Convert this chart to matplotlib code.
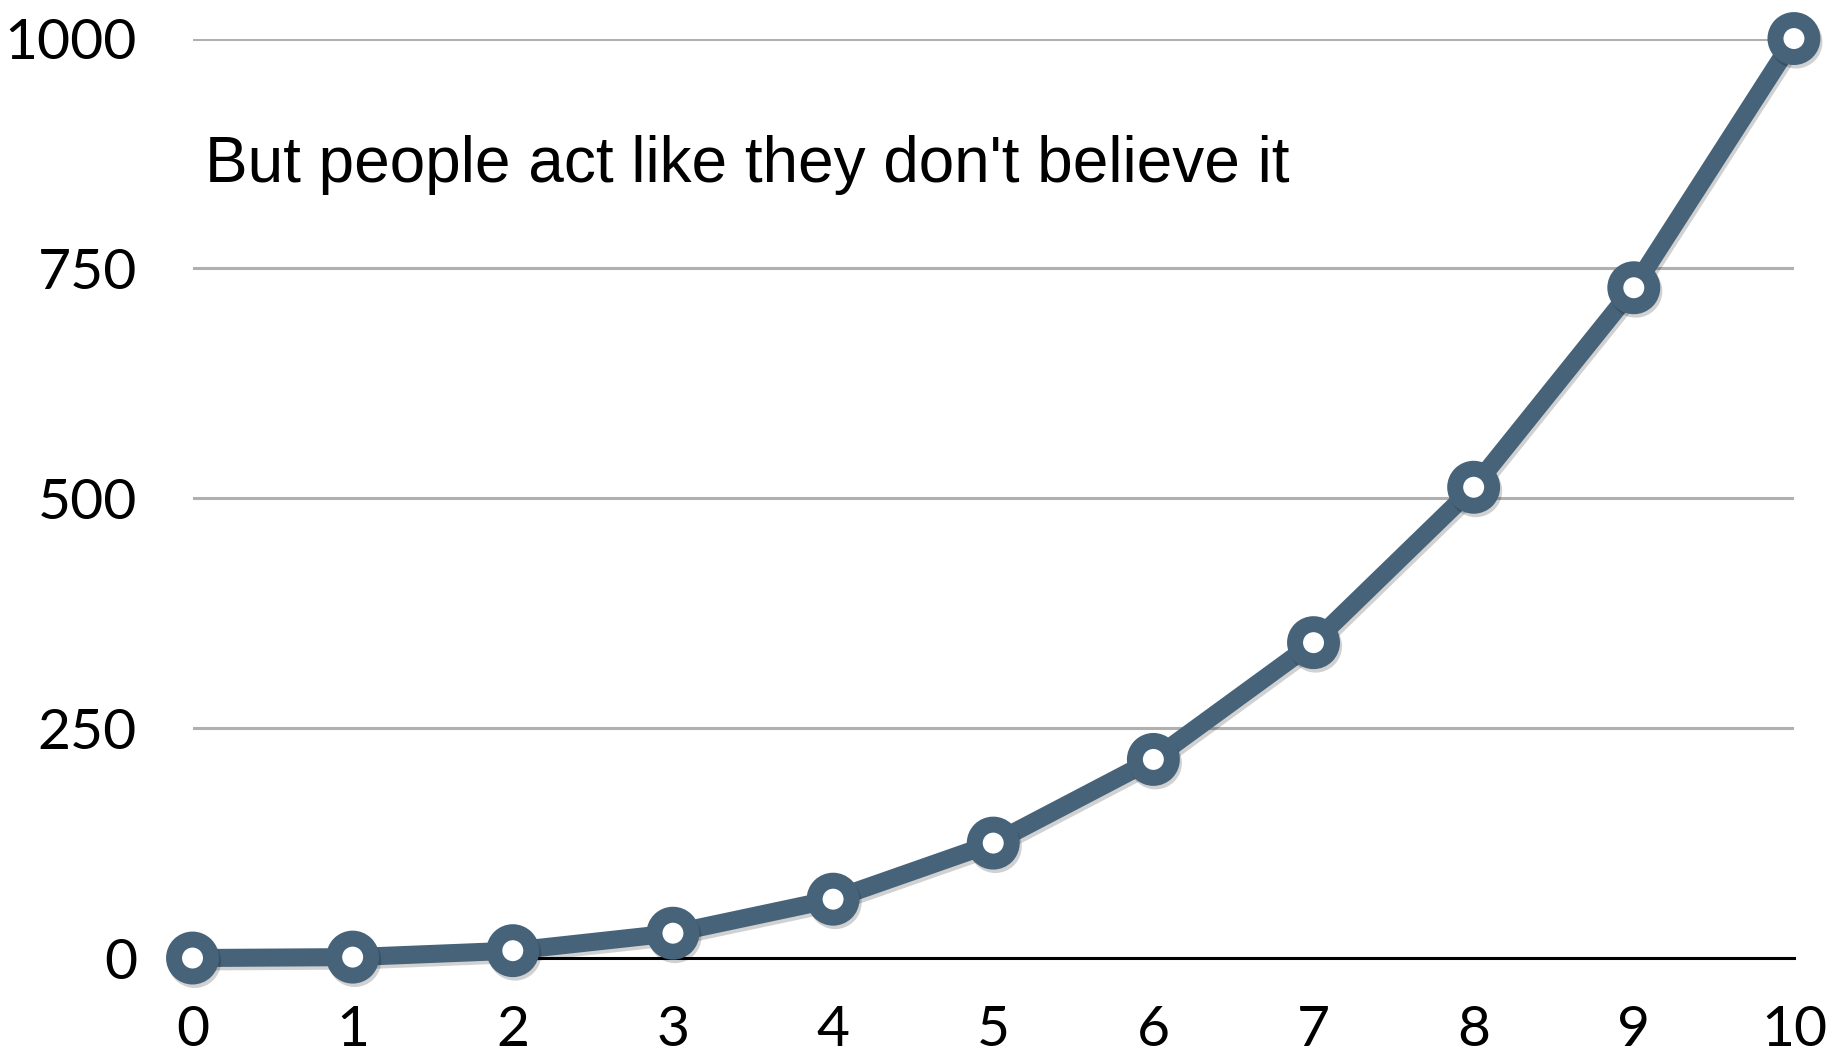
import matplotlib
matplotlib.use("Agg")
import matplotlib.pyplot as plt
import matplotlib.patheffects as pe

# Data: cubic growth
x_values = [0, 1, 2, 3, 4, 5, 6, 7, 8, 9, 10]
y_values = [0, 1, 8, 27, 64, 125, 216, 343, 512, 729, 1000]
y_ticks = [0, 250, 500, 750, 1000]
annotation = "But people act like they don't believe it"

line_color = "#46637a"

fig = plt.figure(figsize=(18.30, 10.62), dpi=100)
ax = fig.add_axes([0.1052, 0.0979, 0.8751, 0.8658])

ax.set_xlim(0, 10)
ax.set_ylim(0, 1000)

# horizontal gridlines
for yv in y_ticks[1:]:
    ax.axhline(yv, color="#b0b0b0", lw=2.2, zorder=1)

ax.plot(x_values, y_values, color=line_color, lw=13, marker="o",
        markersize=26.6, markerfacecolor="white", markeredgecolor=line_color,
        markeredgewidth=11.5, clip_on=False, zorder=3,
        path_effects=[pe.SimpleLineShadow(offset=(1.5, -2.5), alpha=0.18,
                                          shadow_color="black"),
                      pe.Normal()])

for s in ["top", "right", "left"]:
    ax.spines[s].set_visible(False)
ax.spines["bottom"].set_linewidth(2.2)
ax.spines["bottom"].set_color("black")
ax.spines["bottom"].set_zorder(2)

ax.set_xticks(x_values)
ax.set_xticklabels([str(v) for v in x_values])
ax.set_yticks(y_ticks)
ax.set_yticklabels([str(v) for v in y_ticks])
ax.tick_params(axis="both", length=0, labelsize=41)
ax.tick_params(axis="x", pad=34)
ax.tick_params(axis="y", pad=40)
for lab in ax.get_xticklabels() + ax.get_yticklabels():
    lab.set_fontfamily("Lato")

ax.text(0.08, 862, annotation, fontsize=46, fontfamily="Liberation Sans",
        va="center", ha="left", color="black", zorder=4)

fig.savefig("out.png", dpi=100, facecolor="white")
